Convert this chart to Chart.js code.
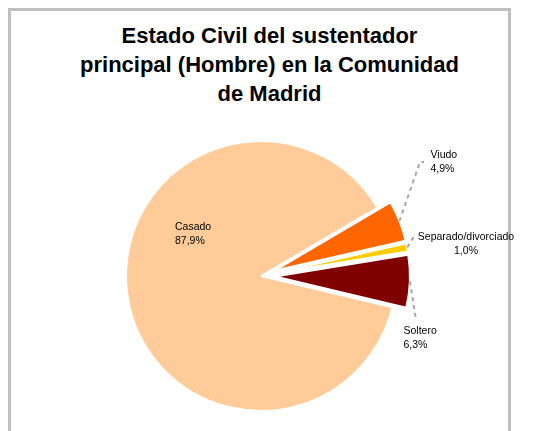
<!DOCTYPE html>
<html>
<head>
<meta charset="utf-8">
<script src="https://cdn.jsdelivr.net/npm/chart.js@4/dist/chart.umd.min.js"></script>
<style>
  body { margin: 0; background: #fff; }
  .frame {
    position: absolute; left: 8px; top: 8px; width: 497px; height: 460px;
    border: 3px solid #c0c0c0; border-bottom: none;
  }
  .title {
    position: absolute; left: 0; top: 21px; width: 539px; text-align: center;
    font: bold 22px "Liberation Sans", Arial, sans-serif; line-height: 29px; color: #000;
  }
  canvas { position: absolute; left: 0; top: 0; }
</style>
</head>
<body>
<div class="frame"></div>
<div class="title">Estado Civil del sustentador<br>principal (Hombre) en la Comunidad<br>de Madrid</div>
<canvas id="chart" width="543" height="431"></canvas>
<script>
const LABELS = ['Casado', 'Viudo', 'Separado/divorciado', 'Soltero'];
const VALUES = [87.9, 4.9, 1.0, 6.3];
const COLORS = ['#ffcc99', '#ff6600', '#ffcc00', '#800000'];
const EXPLODE = [0, 14, 14, 14];

// label placement relative to the pie centre (px), picked by hand like the original
const LABEL_LAYOUT = [
  { dx: -86, dy: -49, align: 'left' },
  { dx: 169.5, dy: -121, align: 'left', elbow: [159, -114], stub: [163, -114] },
  { dx: 205, dy: -39, align: 'center', elbow: [152, -38], stub: [157, -38] },
  { dx: 142.5, dy: 55, align: 'left', elbow: [155, 44] },
];

const explode = {
  id: 'explode',
  afterDatasetUpdate(chart, args) {
    args.meta.data.forEach((arc, i) => {
      let d = EXPLODE[i] || 0;
      if (!d) return;
      let mid = (arc.startAngle + arc.endAngle) / 2;
      arc.x += Math.cos(mid) * d;
      arc.y += Math.sin(mid) * d;
    });
  },
};

const labels = {
  id: 'sliceLabels',
  afterDatasetsDraw(chart) {
    let ctx = chart.ctx;
    let arcs = chart.getDatasetMeta(0).data;
    let cx = arcs[0].x, cy = arcs[0].y;
    ctx.save();
    ctx.font = '10.5px "Liberation Sans", Arial, sans-serif';
    ctx.textBaseline = 'middle';
    arcs.forEach((arc, i) => {
      let l = LABEL_LAYOUT[i];
      if (l.elbow) {
        let mid = (arc.startAngle + arc.endAngle) / 2;
        let r = arc.outerRadius;
        ctx.strokeStyle = '#a6a6a6';
        ctx.lineWidth = 2;
        ctx.setLineDash([4, 4]);
        ctx.beginPath();
        ctx.moveTo(arc.x + Math.cos(mid) * r, arc.y + Math.sin(mid) * r);
        ctx.lineTo(cx + l.elbow[0], cy + l.elbow[1]);
        if (l.stub) ctx.lineTo(cx + l.stub[0], cy + l.stub[1]);
        ctx.stroke();
      }
      ctx.fillStyle = '#000';
      ctx.textAlign = l.align;
      let pct = VALUES[i].toFixed(1).replace('.', ',') + '%';
      ctx.fillText(LABELS[i], cx + l.dx, cy + l.dy);
      ctx.fillText(pct, cx + l.dx, cy + l.dy + 14.5);
    });
    ctx.restore();
  },
};

new Chart(document.getElementById('chart'), {
  type: 'pie',
  data: {
    labels: LABELS,
    datasets: [{
      data: VALUES,
      backgroundColor: COLORS,
      borderColor: '#ffffff',
      borderWidth: 2,
    }],
  },
  options: {
    responsive: false,
    animation: false,
    events: [],
    rotation: 103.4,
    layout: { padding: { top: 140, bottom: 19, left: 30, right: 51 } },
    plugins: {
      legend: { display: false },
      tooltip: { enabled: false },
      title: { display: false },
    },
  },
  plugins: [explode, labels],
});
</script>
</body>
</html>
